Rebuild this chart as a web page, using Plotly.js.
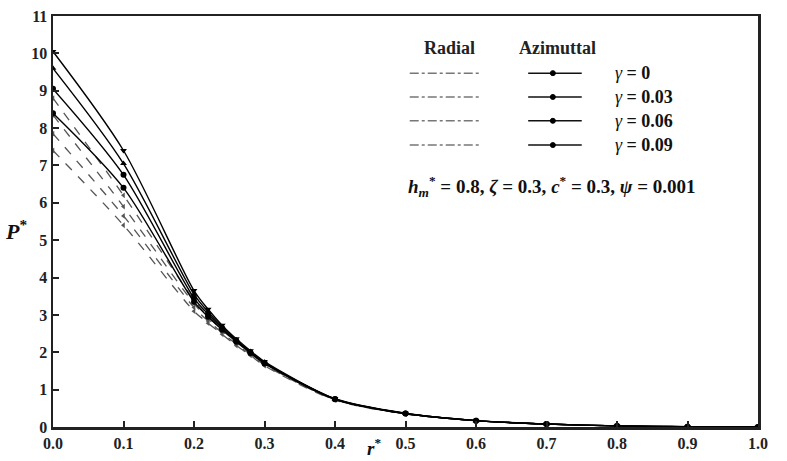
<!DOCTYPE html>
<html>
<head>
<meta charset="utf-8">
<script src="https://cdn.plot.ly/plotly-3.0.1.min.js"></script>
<style>html,body{margin:0;padding:0;background:#fff;}#chart{width:787px;height:461px;}</style>
</head>
<body>
<div id="chart"></div>
<script>
// r* positions of computed points
const rStar = [0, 0.1, 0.2, 0.22, 0.24, 0.26, 0.28, 0.3, 0.4, 0.5, 0.6, 0.7, 0.8, 0.9, 1.0];
const gammaLabels = ["0", "0.03", "0.06", "0.09"];

// Azimuthal (solid) P*
const azim_g0   = [8.40, 6.40, 3.35, 2.95, 2.60, 2.28, 1.98, 1.70, 0.74, 0.36, 0.17, 0.08, 0.03, 0.01, 0];
const azim_g003 = [9.05, 6.75, 3.45, 3.02, 2.64, 2.30, 2.00, 1.72, 0.75, 0.36, 0.17, 0.08, 0.03, 0.01, 0];
const azim_g006 = [9.60, 7.05, 3.55, 3.08, 2.68, 2.33, 2.02, 1.73, 0.75, 0.36, 0.17, 0.08, 0.03, 0.01, 0];
const azim_g009 = [10.05, 7.40, 3.65, 3.15, 2.72, 2.36, 2.04, 1.75, 0.76, 0.37, 0.17, 0.08, 0.03, 0.01, 0];

// Radial (dashed) P*
const rad_g0    = [7.40, 5.40, 3.10, 2.78, 2.48, 2.18, 1.92, 1.64, 0.72, 0.35, 0.17, 0.08, 0.03, 0.01, 0];
const rad_g003  = [7.85, 5.65, 3.20, 2.84, 2.52, 2.22, 1.94, 1.66, 0.73, 0.35, 0.17, 0.08, 0.03, 0.01, 0];
const rad_g006  = [8.35, 5.90, 3.30, 2.90, 2.56, 2.25, 1.96, 1.68, 0.74, 0.36, 0.17, 0.08, 0.03, 0.01, 0];
const rad_g009  = [8.80, 6.20, 3.40, 2.96, 2.60, 2.28, 1.98, 1.70, 0.75, 0.36, 0.17, 0.08, 0.03, 0.01, 0];

const xTicks = [0, 0.1, 0.2, 0.3, 0.4, 0.5, 0.6, 0.7, 0.8, 0.9, 1.0];
const xTickText = ["0.0","0.1","0.2","0.3","0.4","0.5","0.6","0.7","0.8","0.9","1.0"];
const yTicks = [0,1,2,3,4,5,6,7,8,9,10,11];
const yTickText = ["0","1","2","3","4","5","6","7","8","9","10","11"];

const azimSeries = [azim_g0, azim_g003, azim_g006, azim_g009];
const radSeries = [rad_g0, rad_g003, rad_g006, rad_g009];
const azimSymbols = ["circle", "circle", "triangle-up", "triangle-down"];
const radSymbols = ["triangle-left", "triangle-left", "triangle-left", "triangle-left"];

const traces = [];
radSeries.forEach((ys, i) => {
  traces.push({
    x: rStar, y: ys, type: "scatter", mode: "lines+markers",
    line: {color: "#555", width: 1.3, dash: "dash", shape: "spline", smoothing: 0.8},
    marker: {symbol: radSymbols[i], size: 5, color: "#555"},
    name: "Radial γ=" + gammaLabels[i], showlegend: false, hoverinfo: "skip"
  });
});
azimSeries.forEach((ys, i) => {
  traces.push({
    x: rStar, y: ys, type: "scatter", mode: "lines+markers",
    line: {color: "#000", width: 1.4, shape: "spline", smoothing: 0.8},
    marker: {symbol: azimSymbols[i], size: 6, color: "#000"},
    name: "Azimuthal γ=" + gammaLabels[i], showlegend: false, hoverinfo: "skip"
  });
});

const serif = "Liberation Serif, Times New Roman, serif";
const annotations = [
  {xref:"paper", yref:"paper", x:0.523, y:0.922, xanchor:"left", yanchor:"middle", text:"<b>Radial</b>", showarrow:false, font:{family:serif, size:18, color:"#222"}},
  {xref:"paper", yref:"paper", x:0.715, y:0.922, xanchor:"center", yanchor:"middle", text:"<b>Azimuttal</b>", showarrow:false, font:{family:serif, size:18, color:"#222"}},
  {xref:"paper", yref:"paper", x:0.708, y:0.584, xanchor:"center", yanchor:"middle", text:"<b><i>h</i><sub><i>m</i></sub><sup>*</sup> = 0.8, <i>ζ</i> = 0.3, <i>c</i><sup>*</sup> = 0.3, <i>ψ</i> = 0.001</b>", showarrow:false, font:{family:serif, size:19, color:"#111"}},
  {xref:"paper", yref:"paper", x:-0.053, y:0.48, xanchor:"center", yanchor:"middle", text:"<b><i>P</i></b><sup><b>*</b></sup>", showarrow:false, font:{family:serif, size:22, color:"#111"}},
  {xref:"paper", yref:"paper", x:0.455, y:-0.083, xanchor:"center", yanchor:"bottom", text:"<b><i>r</i></b><sup><b>*</b></sup>", showarrow:false, font:{family:serif, size:19, color:"#111"}}
];
const rowsY = [0.861, 0.803, 0.745, 0.686];
const shapes = [];
gammaLabels.forEach((g, i) => {
  annotations.push({xref:"paper", yref:"paper", x:0.794, y:rowsY[i], xanchor:"left", yanchor:"middle", text:"<i>γ</i> <b>= " + g + "</b>", showarrow:false, font:{family:serif, size:18, color:"#111"}});
  shapes.push({type:"line", xref:"paper", yref:"paper", x0:0.506, x1:0.606, y0:rowsY[i], y1:rowsY[i], line:{color:"#777", width:1.5, dash:"dashdot"}});
  shapes.push({type:"line", xref:"paper", yref:"paper", x0:0.674, x1:0.750, y0:rowsY[i], y1:rowsY[i], line:{color:"#111", width:1.5}});
  shapes.push({type:"circle", xref:"paper", yref:"paper", xsizemode:"pixel", ysizemode:"pixel", xanchor:0.709, yanchor:rowsY[i], x0:-2.5, x1:2.5, y0:-2.5, y1:2.5, fillcolor:"#000", line:{color:"#000", width:1}});
});

const layout = {
  width: 787, height: 461,
  margin: {l: 53, r: 29, t: 16, b: 34},
  paper_bgcolor: "#fff", plot_bgcolor: "#fff",
  showlegend: false,
  xaxis: {
    range: [0, 1], tickvals: xTicks, ticktext: xTickText.map(t => "<b>" + t + "</b>"),
    ticks: "inside", ticklen: 6, tickwidth: 2, tickcolor: "#222",
    showline: true, linecolor: "#222", linewidth: 2.5, mirror: true,
    showgrid: false, zeroline: false,
    tickfont: {family: serif, size: 16, color: "#222"}
  },
  yaxis: {
    range: [0, 11], tickvals: yTicks, ticktext: yTickText.map(t => "<b>" + t + "</b>"),
    ticks: "inside", ticklen: 6, tickwidth: 2, tickcolor: "#222",
    showline: true, linecolor: "#222", linewidth: 2.5, mirror: true,
    showgrid: false, zeroline: false,
    tickfont: {family: serif, size: 16, color: "#222"}
  },
  annotations: annotations,
  shapes: shapes
};

Plotly.newPlot("chart", traces, layout, {displayModeBar: false, staticPlot: true});
</script>
</body>
</html>
